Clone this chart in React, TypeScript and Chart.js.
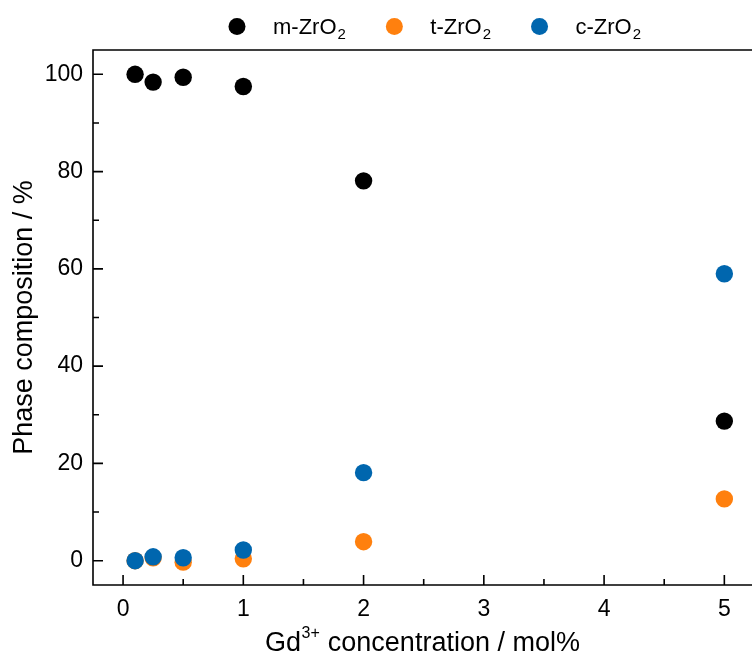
import React, { useEffect, useRef } from "react";
import { Chart, registerables } from "chart.js";

Chart.register(...registerables);

// ---- data ----
const concentrations = [0.1, 0.25, 0.5, 1, 2, 5];
const monoclinic = [100, 98.4, 99.4, 97.5, 78.1, 28.7];
const tetragonal = [0, 0.6, -0.3, 0.4, 3.9, 12.7];
const cubic = [0, 0.8, 0.6, 2.2, 18.1, 59.0];

const seriesBase = ["m-ZrO", "t-ZrO", "c-ZrO"];
const seriesSub = ["2", "2", "2"];
const seriesColors = ["#000000", "#FF800E", "#0066AE"];

const xMajorTicks = [0, 1, 2, 3, 4, 5];
const xMinorTicks = [0.5, 1.5, 2.5, 3.5, 4.5];
const yMajorTicks = [0, 20, 40, 60, 80, 100];
const yMinorTicks = [10, 30, 50, 70, 90];

const xTitleMain = "Gd";
const xTitleSup = "3+";
const xTitleRest = " concentration / mol%";
const yTitle = "Phase composition / %";

const FONT = "'Liberation Sans', Arial, Helvetica, sans-serif";

const decorPlugin = {
  id: "decor",
  afterDraw(chart: any) {
    const { ctx, chartArea, scales } = chart;
    const xs = scales.x;
    const ys = scales.y;
    const { left, right, top, bottom } = chartArea;
    ctx.save();
    ctx.strokeStyle = "#000";
    ctx.lineWidth = 1.6;
    ctx.lineCap = "butt";
    // frame: top, left, bottom
    ctx.beginPath();
    ctx.moveTo(right + 2, top);
    ctx.lineTo(left, top);
    ctx.lineTo(left, bottom);
    ctx.lineTo(right + 2, bottom);
    ctx.stroke();
    // inward ticks
    ctx.beginPath();
    xMajorTicks.forEach((v) => {
      const px = xs.getPixelForValue(v);
      ctx.moveTo(px, bottom);
      ctx.lineTo(px, bottom - 10);
    });
    xMinorTicks.forEach((v) => {
      const px = xs.getPixelForValue(v);
      ctx.moveTo(px, bottom);
      ctx.lineTo(px, bottom - 6);
    });
    yMajorTicks.forEach((v) => {
      const py = ys.getPixelForValue(v);
      ctx.moveTo(left, py);
      ctx.lineTo(left + 10, py);
    });
    yMinorTicks.forEach((v) => {
      const py = ys.getPixelForValue(v);
      ctx.moveTo(left, py);
      ctx.lineTo(left + 6, py);
    });
    ctx.stroke();

    // legend
    ctx.textBaseline = "alphabetic";
    ctx.textAlign = "left";
    let cx = 237;
    const cy = 26.5;
    const baseY = 34;
    for (let i = 0; i < seriesBase.length; i++) {
      ctx.beginPath();
      ctx.fillStyle = seriesColors[i];
      ctx.arc(cx, cy, 8.5, 0, Math.PI * 2);
      ctx.fill();
      ctx.fillStyle = "#000";
      const tx = cx + 36;
      ctx.font = `22px ${FONT}`;
      ctx.fillText(seriesBase[i], tx, baseY);
      const w = ctx.measureText(seriesBase[i]).width;
      ctx.font = `15px ${FONT}`;
      ctx.fillText(seriesSub[i], tx + w + 1, baseY + 5);
      const ws = ctx.measureText(seriesSub[i]).width;
      cx = tx + w + 1 + ws + 48.5;
    }

    // x title with superscript
    const fMain = `27px ${FONT}`;
    const fSup = `16px ${FONT}`;
    ctx.font = fMain;
    const w1 = ctx.measureText(xTitleMain).width;
    const w3 = ctx.measureText(xTitleRest).width;
    ctx.font = fSup;
    const w2 = ctx.measureText(xTitleSup).width;
    const total = w1 + w2 + 1 + w3;
    const center = (left + right) / 2;
    let sx = center - total / 2;
    const by = 651;
    ctx.fillStyle = "#000";
    ctx.font = fMain;
    ctx.fillText(xTitleMain, sx, by);
    sx += w1 + 0.5;
    ctx.font = fSup;
    ctx.fillText(xTitleSup, sx, by - 13);
    sx += w2 + 0.5;
    ctx.font = fMain;
    ctx.fillText(xTitleRest, sx, by);
    ctx.restore();
  },
};

export default function App() {
  const ref = useRef<HTMLCanvasElement | null>(null);
  useEffect(() => {
    if (!ref.current) return;
    const point = (i: number) => ({
      pointRadius: 8.7,
      pointHoverRadius: 8.7,
      pointBackgroundColor: seriesColors[i],
      pointBorderColor: seriesColors[i],
      pointBorderWidth: 0,
      backgroundColor: seriesColors[i],
      borderColor: seriesColors[i],
      showLine: false,
    });
    const chart = new Chart(ref.current, {
      type: "scatter",
      data: {
        datasets: [
          {
            label: seriesBase[0] + "₂",
            data: concentrations.map((x, k) => ({ x, y: monoclinic[k] })),
            order: 0,
            ...point(0),
          },
          {
            label: seriesBase[1] + "₂",
            data: concentrations.map((x, k) => ({ x, y: tetragonal[k] })),
            order: 2,
            ...point(1),
          },
          {
            label: seriesBase[2] + "₂",
            data: concentrations.map((x, k) => ({ x, y: cubic[k] })),
            order: 1,
            ...point(2),
          },
        ],
      },
      options: {
        animation: false,
        responsive: false,
        maintainAspectRatio: false,
        layout: { autoPadding: false, padding: { top: 50, left: 0, right: 0, bottom: 0 } },
        plugins: {
          legend: { display: false },
          tooltip: { enabled: false },
        },
        scales: {
          x: {
            type: "linear",
            min: -0.25,
            max: 5.23,
            grid: { display: false, drawTicks: false },
            border: { display: false },
            ticks: {
              stepSize: 1,
              includeBounds: false,
              padding: 11,
              color: "#000",
              font: { family: FONT, size: 23 },
              maxRotation: 0,
              autoSkip: false,
            },
            afterFit: (s: any) => {
              s.height = 78;
            },
          },
          y: {
            type: "linear",
            min: -5,
            max: 105,
            grid: { display: false, drawTicks: false },
            border: { display: false },
            ticks: {
              stepSize: 20,
              includeBounds: false,
              padding: 10,
              color: "#000",
              font: { family: FONT, size: 23 },
              autoSkip: false,
            },
            title: {
              display: true,
              text: yTitle,
              color: "#000",
              font: { family: FONT, size: 27 },
              padding: { top: 8, bottom: 0 },
            },
            afterFit: (s: any) => {
              s.width = 93;
            },
          },
        },
      },
      plugins: [decorPlugin],
    } as any);
    return () => chart.destroy();
  }, []);
  return (
    <div style={{ position: "absolute", left: 0, top: 0, width: 752, height: 663, background: "#fff", overflow: "hidden" }}>
      <canvas ref={ref} width={752} height={663} style={{ display: "block" }} />
    </div>
  );
}
